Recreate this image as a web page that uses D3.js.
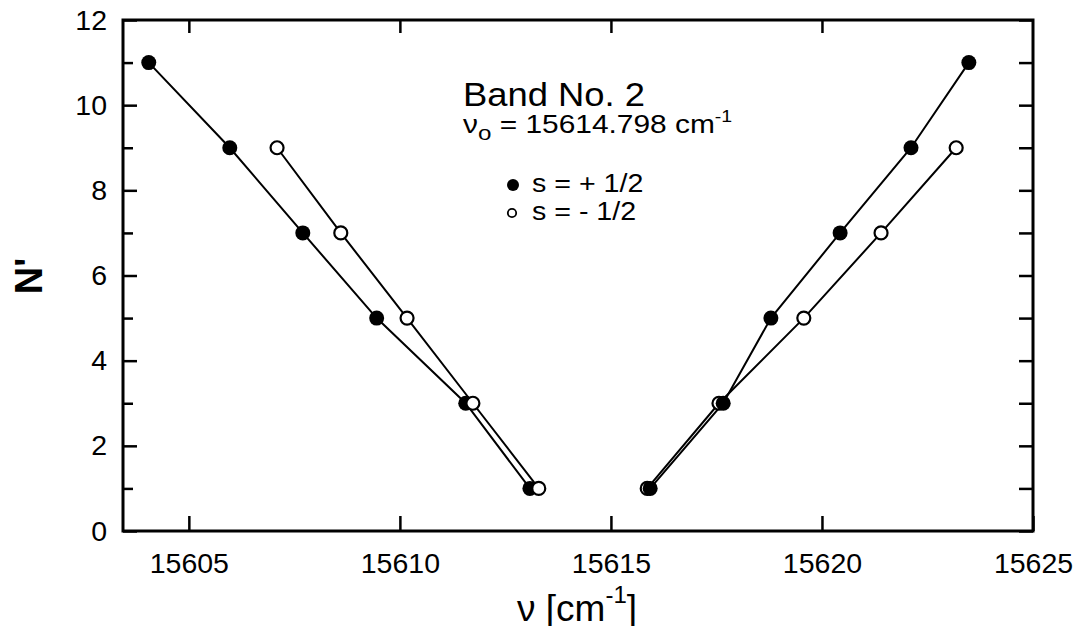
<!DOCTYPE html>
<html>
<head>
<meta charset="utf-8">
<script src="https://cdn.jsdelivr.net/npm/d3@7"></script>
<style>
  body { margin: 0; background: #fff; }
  text { font-family: "Liberation Sans", Arial, Helvetica, sans-serif; fill: #000; }
</style>
</head>
<body>
<script>
// s = +1/2 (filled), s = -1/2 (open); N' values and line positions in cm-1
const nFilledLeft = [11, 9, 7, 5, 3, 1];
const vFilledLeft = [15604.05, 15605.97, 15607.70, 15609.45, 15611.56, 15613.08];
const nOpenLeft = [9, 7, 5, 3, 1];
const vOpenLeft = [15607.09, 15608.60, 15610.17, 15611.73, 15613.29];
const nFilledRight = [1, 3, 5, 7, 9, 11];
const vFilledRight = [15615.93, 15617.66, 15618.79, 15620.43, 15622.11, 15623.48];
const nOpenRight = [1, 3, 5, 7, 9];
const vOpenRight = [15615.86, 15617.56, 15619.57, 15621.40, 15623.18];

const xTicks = [15605, 15610, 15615, 15620, 15625];
const yMajor = [0, 2, 4, 6, 8, 10, 12];
const yMinor = [1, 3, 5, 7, 9, 11];

const width = 1079;
const height = 626;
const pLeft = 123, pRight = 1033, pTop = 20, pBottom = 531;

const svg = d3
  .select("body")
  .append("svg")
  .attr("width", width)
  .attr("height", height);

const x = d3.scaleLinear().domain([15603.44, 15625]).range([pLeft, pRight]);
const y = d3.scaleLinear().domain([0, 12]).range([pBottom, pTop]);

function pts(vs, ns) {
  return vs.map((v, i) => ({ v: v, n: ns[i] }));
}

// axes (ticks inward)
function styleAxis(g) {
  g.select(".domain").remove();
  g.selectAll(".tick line").attr("stroke", "#000").attr("stroke-width", 2.5);
  g.selectAll(".tick text")
    .attr("font-size", 28.5)
    .attr("font-family", '"Liberation Sans", Arial, sans-serif')
    .attr("fill", "#000");
}

svg.append("g")
  .attr("transform", `translate(${pLeft},0)`)
  .call(d3.axisLeft(y).tickValues(yMajor).tickSizeInner(-14).tickSizeOuter(0).tickPadding(16).tickFormat(d3.format("d")))
  .call(styleAxis);
svg.append("g")
  .attr("transform", `translate(${pLeft},0)`)
  .call(d3.axisLeft(y).tickValues(yMinor).tickSizeInner(-10).tickSizeOuter(0).tickFormat(""))
  .call(styleAxis);
svg.append("g")
  .attr("transform", `translate(${pRight},0)`)
  .call(d3.axisRight(y).tickValues(yMajor.concat(yMinor)).tickSizeInner(-14).tickSizeOuter(0).tickFormat(""))
  .call(styleAxis);
svg.append("g")
  .attr("transform", `translate(0,${pBottom})`)
  .call(d3.axisBottom(x).tickValues(xTicks).tickSizeInner(-15).tickSizeOuter(0).tickPadding(22).tickFormat(d3.format("d")))
  .call(styleAxis);
svg.append("g")
  .attr("transform", `translate(0,${pTop})`)
  .call(d3.axisTop(x).tickValues(xTicks.slice(0, 4)).tickSizeInner(-13).tickSizeOuter(0).tickFormat(""))
  .call(styleAxis);

// frame
svg.append("rect")
  .attr("x", pLeft)
  .attr("y", pTop)
  .attr("width", pRight - pLeft)
  .attr("height", pBottom - pTop)
  .attr("fill", "none")
  .attr("stroke", "#000")
  .attr("stroke-width", 3);

const line = d3.line().x((d) => x(d.v)).y((d) => y(d.n));

const series = [
  { data: pts(vFilledLeft, nFilledLeft), filled: true },
  { data: pts(vOpenLeft, nOpenLeft), filled: false },
  { data: pts(vOpenRight, nOpenRight), filled: false },
  { data: pts(vFilledRight, nFilledRight), filled: true },
];

series.forEach((s) => {
  svg.append("path")
    .datum(s.data)
    .attr("d", line)
    .attr("fill", "none")
    .attr("stroke", "#000")
    .attr("stroke-width", 2);
});

series.forEach((s) => {
  svg.append("g")
    .selectAll("circle")
    .data(s.data)
    .enter()
    .append("circle")
    .attr("cx", (d) => x(d.v))
    .attr("cy", (d) => y(d.n))
    .attr("r", s.filled ? 7.5 : 6.5)
    .attr("fill", s.filled ? "#000" : "#fff")
    .attr("stroke", "#000")
    .attr("stroke-width", s.filled ? 0 : 2.2);
});

// annotation (the scanned lettering is a bit wide, so stretch horizontally)
svg.append("text")
  .attr("transform", "translate(463,106) scale(1.07,1)")
  .attr("font-size", 34)
  .text("Band No. 2");

const nu0 = svg.append("text")
  .attr("transform", "translate(463,133) scale(1.15,1)")
  .attr("font-size", 26);
nu0.append("tspan").text("\u03bd");
nu0.append("tspan").attr("font-size", 21).attr("dy", 7).text("o");
nu0.append("tspan").attr("dy", -7).text(" = 15614.798 cm");
nu0.append("tspan").attr("font-size", 17).attr("dy", -11).text("-1");

// legend
svg.append("circle").attr("cx", 513).attr("cy", 185).attr("r", 6).attr("fill", "#000");
svg.append("circle").attr("cx", 512).attr("cy", 213).attr("r", 4.2)
  .attr("fill", "#fff").attr("stroke", "#000").attr("stroke-width", 1.8);
svg.append("text")
  .attr("transform", "translate(532,192) scale(1.1,1)")
  .attr("font-size", 26)
  .text("s = + 1/2");
svg.append("text")
  .attr("transform", "translate(532,220) scale(1.1,1)")
  .attr("font-size", 26)
  .text("s = - 1/2");

// axis titles
svg.append("text")
  .attr("transform", "translate(42,276) rotate(-90)")
  .attr("text-anchor", "middle")
  .attr("font-size", 38)
  .attr("font-weight", "bold")
  .text("N'");

const xt = svg.append("text")
  .attr("x", 517)
  .attr("y", 621)
  .attr("font-size", 37);
xt.append("tspan").text("\u03bd [cm");
xt.append("tspan").attr("font-size", 24).attr("dy", -18).text("-1");
xt.append("tspan").attr("dy", 18).text("]");
</script>
</body>
</html>
